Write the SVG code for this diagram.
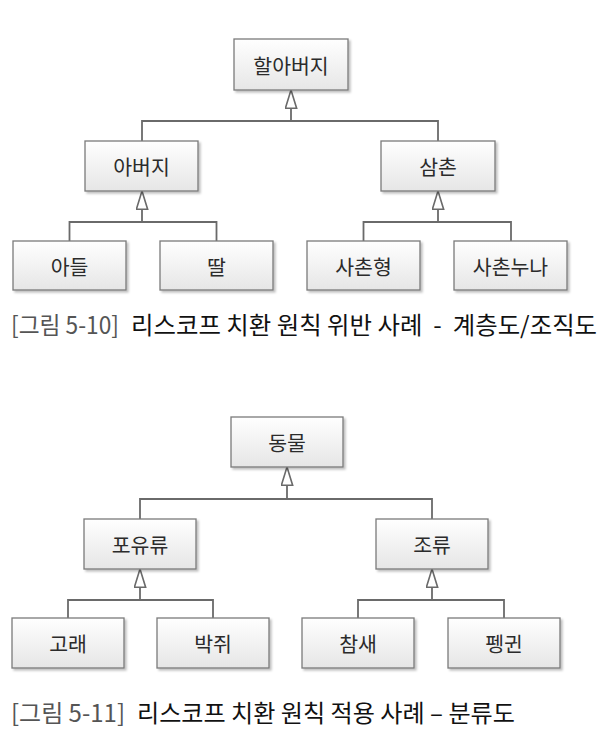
<svg xmlns="http://www.w3.org/2000/svg" width="605" height="742" viewBox="0 0 605 742">
  <style>
    .box { fill: url(#g); stroke: #7a7a7a; stroke-width: 1.3; filter: url(#sh); }
    .lbl { font-family: "Noto Sans CJK KR", "Noto Sans", sans-serif; font-size: 20.5px; fill: #2b2b2b; text-anchor: middle; dominant-baseline: central; }
    .ln { fill: none; stroke: #6a6a6a; stroke-width: 1.8; }
    .arr { fill: none; stroke: #6a6a6a; stroke-width: 1.8; marker-end: url(#tri); }
    .cap { font-family: "Noto Sans CJK KR", "Noto Sans", sans-serif; font-size: 24px; }
  </style>
  <defs>
    <linearGradient id="g" x1="0" y1="0" x2="0" y2="1">
      <stop offset="0" stop-color="#ffffff"/>
      <stop offset="1" stop-color="#e6e6e6"/>
    </linearGradient>
    <filter id="sh" x="-10%" y="-10%" width="130%" height="140%">
      <feDropShadow dx="2" dy="2" stdDeviation="1.2" flood-color="#000" flood-opacity="0.25"/>
    </filter>
    <marker id="tri" viewBox="0 0 20 13" refX="19.2" refY="6.5" markerWidth="20" markerHeight="13" markerUnits="userSpaceOnUse" orient="auto">
      <path d="M0.8,0.8 L19.2,6.5 L0.8,12.2 Z" fill="#ffffff" stroke="#6a6a6a" stroke-width="1.6"/>
    </marker>
  </defs>

  <g id="connectors">
    <!-- figure 5-10 -->
    <path class="ln" d="M142,141 V121 H438 V141"/>
    <path class="arr" d="M291,121 V90"/>
    <path class="ln" d="M69.5,241 V222 H216.5 V241"/>
    <path class="arr" d="M142,222 V191"/>
    <path class="ln" d="M363.5,241 V222 H511 V241"/>
    <path class="arr" d="M438,222 V191"/>
    <!-- figure 5-11 -->
    <path class="ln" d="M140,519 V499 H432 V519"/>
    <path class="arr" d="M287,499 V467"/>
    <path class="ln" d="M68,618 V600 H213 V618"/>
    <path class="arr" d="M140,600 V569"/>
    <path class="ln" d="M358,618 V600 H504 V618"/>
    <path class="arr" d="M432,600 V569"/>
  </g>

  <g id="n-grandfather"><rect class="box" x="234" y="39" width="114" height="51"/><text class="lbl" x="291" y="65">할아버지</text></g>
  <g id="n-father"><rect class="box" x="85" y="141" width="113" height="50"/><text class="lbl" x="141.5" y="166">아버지</text></g>
  <g id="n-uncle"><rect class="box" x="381" y="141" width="114" height="50"/><text class="lbl" x="438" y="166">삼촌</text></g>
  <g id="n-son"><rect class="box" x="13" y="241" width="113" height="49"/><text class="lbl" x="69.5" y="266">아들</text></g>
  <g id="n-daughter"><rect class="box" x="160" y="241" width="113" height="49"/><text class="lbl" x="216.5" y="266">딸</text></g>
  <g id="n-cousin-bro"><rect class="box" x="307" y="241" width="113" height="49"/><text class="lbl" x="363.5" y="266">사촌형</text></g>
  <g id="n-cousin-sis"><rect class="box" x="454" y="241" width="113" height="49"/><text class="lbl" x="510.5" y="266">사촌누나</text></g>

  <g transform="scale(0.9 1)">
    <text class="cap" x="12.2" y="334" fill="#555555" textLength="120" lengthAdjust="spacingAndGlyphs">[그림 5-10]</text>
    <text class="cap" x="145.6" y="334" fill="#111111" textLength="517.8" lengthAdjust="spacingAndGlyphs" xml:space="preserve">리스코프 치환 원칙 위반 사례  -  계층도/조직도</text>
  </g>

  <g id="n-animal"><rect class="box" x="231" y="417" width="112" height="50"/><text class="lbl" x="287" y="442">동물</text></g>
  <g id="n-mammal"><rect class="box" x="84" y="519" width="112" height="50"/><text class="lbl" x="140" y="544">포유류</text></g>
  <g id="n-bird"><rect class="box" x="376" y="519" width="112" height="50"/><text class="lbl" x="432" y="544">조류</text></g>
  <g id="n-whale"><rect class="box" x="12" y="618" width="112" height="50"/><text class="lbl" x="68" y="643">고래</text></g>
  <g id="n-bat"><rect class="box" x="157" y="618" width="112" height="50"/><text class="lbl" x="213" y="643">박쥐</text></g>
  <g id="n-sparrow"><rect class="box" x="302" y="618" width="112" height="50"/><text class="lbl" x="358" y="643">참새</text></g>
  <g id="n-penguin"><rect class="box" x="448" y="618" width="112" height="50"/><text class="lbl" x="504" y="643">펭귄</text></g>

  <g transform="scale(0.9 1)">
    <text class="cap" x="12.2" y="722" fill="#555555" textLength="126.7" lengthAdjust="spacingAndGlyphs">[그림 5-11]</text>
    <text class="cap" x="152.2" y="722" fill="#111111" textLength="420" lengthAdjust="spacingAndGlyphs">리스코프 치환 원칙 적용 사례 – 분류도</text>
  </g>
</svg>
